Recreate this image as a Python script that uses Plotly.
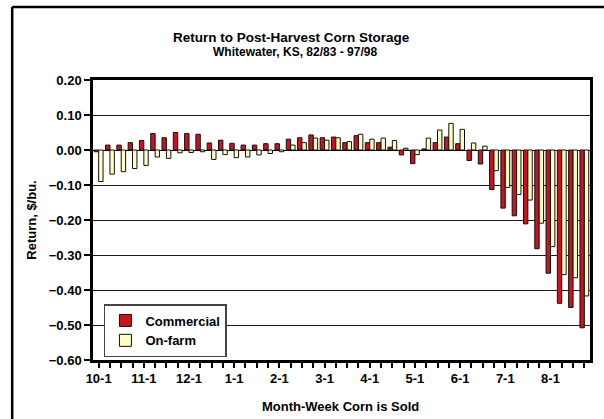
import plotly.graph_objects as go

# Marketing weeks, October week 1 through August week 4
months = ["10", "11", "12", "1", "2", "3", "4", "5", "6", "7", "8"]
weeks = [f"{m}-{w}" for m in months for w in range(1, 5)]
tick_labels = [wk if wk.endswith("-1") else "" for wk in weeks]

# Average return to storage, $/bu.
commercial = [
    -0.005, 0.014, 0.014, 0.021, 0.027, 0.047, 0.035, 0.050,
    0.047, 0.045, 0.020, 0.028, 0.019, 0.014, 0.014, 0.018,
    0.018, 0.031, 0.035, 0.043, 0.035, 0.037, 0.021, 0.041,
    0.021, 0.021, 0.008, -0.014, -0.039, 0.003, 0.021, 0.037,
    0.018, -0.030, -0.040, -0.113, -0.166, -0.188, -0.211, -0.282,
    -0.352, -0.438, -0.450, -0.508,
]
on_farm = [
    -0.090, -0.069, -0.062, -0.053, -0.044, -0.020, -0.024, -0.008,
    -0.007, -0.005, -0.027, -0.013, -0.022, -0.020, -0.014, -0.010,
    -0.005, 0.014, 0.021, 0.034, 0.028, 0.035, 0.024, 0.045,
    0.031, 0.034, 0.027, 0.005, -0.013, 0.034, 0.057, 0.076,
    0.059, 0.020, 0.011, -0.059, -0.107, -0.127, -0.143, -0.209,
    -0.276, -0.356, -0.365, -0.417,
]

FONT = "Liberation Sans, Arial, sans-serif"

fig = go.Figure()
fig.add_trace(go.Bar(
    x=weeks, y=commercial, name="Commercial",
    marker=dict(color="#C8141C", line=dict(color="#111111", width=1)),
))
fig.add_trace(go.Bar(
    x=weeks, y=on_farm, name="On-farm",
    marker=dict(color="#FFFFC4", line=dict(color="#111111", width=1)),
))

L, R, T, B = 93, 11, 80, 59
W, H = 604, 419
pw, ph = W - L - R, H - T - B

def px_x(px):
    return (px - L) / pw

def px_y(py):
    return (H - B - py) / ph

fig.update_layout(
    width=W, height=H,
    margin=dict(l=L, r=R, t=T, b=B, pad=0),
    paper_bgcolor="white", plot_bgcolor="white",
    barmode="group", bargap=0.22, bargroupgap=0.0,
    font=dict(family=FONT, size=13, color="black"),
    showlegend=True,
    legend=dict(
        x=px_x(104), y=px_y(304), xanchor="left", yanchor="top",
        bgcolor="white", bordercolor="#444444", borderwidth=1.5,
        font=dict(family=FONT, size=13, color="black", weight="bold"),
        tracegroupgap=0, itemwidth=30,
    ),
    xaxis=dict(
        type="category", categoryorder="array", categoryarray=weeks,
        tickmode="array", tickvals=weeks, ticktext=tick_labels,
        ticks="outside", ticklen=5, tickwidth=1.5, tickcolor="black",
        tickangle=0, automargin=False,
        tickfont=dict(family=FONT, size=13, color="black", weight="bold"),
        showline=True, linecolor="black", linewidth=2.5, mirror=True,
        showgrid=False, zeroline=False,
    ),
    yaxis=dict(
        range=[-0.6, 0.2], tickmode="linear", tick0=-0.6, dtick=0.1,
        tickformat=".2f",
        ticks="outside", ticklen=6, tickwidth=1.5, tickcolor="black",
        tickfont=dict(family=FONT, size=13, color="black", weight="bold"),
        showline=True, linecolor="black", linewidth=2.5, mirror=True,
        showgrid=True, gridcolor="#1a1a1a", gridwidth=1,
        zeroline=True, zerolinecolor="black", zerolinewidth=1.2,
        title=dict(text="Return, $/bu.", standoff=10,
                   font=dict(family=FONT, size=13, color="black", weight="bold")),
    ),
)

# Chart titles
fig.add_annotation(
    text="Return to Post-Harvest Corn Storage", xref="paper", yref="paper",
    x=px_x(293), y=px_y(37), xanchor="center", yanchor="middle", showarrow=False,
    font=dict(family=FONT, size=13.5, color="black", weight="bold"),
)
fig.add_annotation(
    text="Whitewater, KS, 82/83 - 97/98", xref="paper", yref="paper",
    x=px_x(296), y=px_y(52), xanchor="center", yanchor="middle", showarrow=False,
    font=dict(family=FONT, size=12, color="black", weight="bold"),
)
# Category axis title
fig.add_annotation(
    text="Month-Week Corn is Sold", xref="paper", yref="paper",
    x=px_x(342), y=px_y(406), xanchor="center", yanchor="middle", showarrow=False,
    font=dict(family=FONT, size=13, color="black", weight="bold"),
)

# Chart-area frame (top and left edges)
fig.add_shape(type="line", xref="paper", yref="paper",
              x0=px_x(11.7), x1=px_x(700), y0=px_y(7), y1=px_y(7),
              line=dict(color="black", width=2.5))
fig.add_shape(type="line", xref="paper", yref="paper",
              x0=px_x(11.7), x1=px_x(11.7), y0=px_y(7), y1=px_y(500),
              line=dict(color="black", width=2.5))

fig.write_html("out.html")
